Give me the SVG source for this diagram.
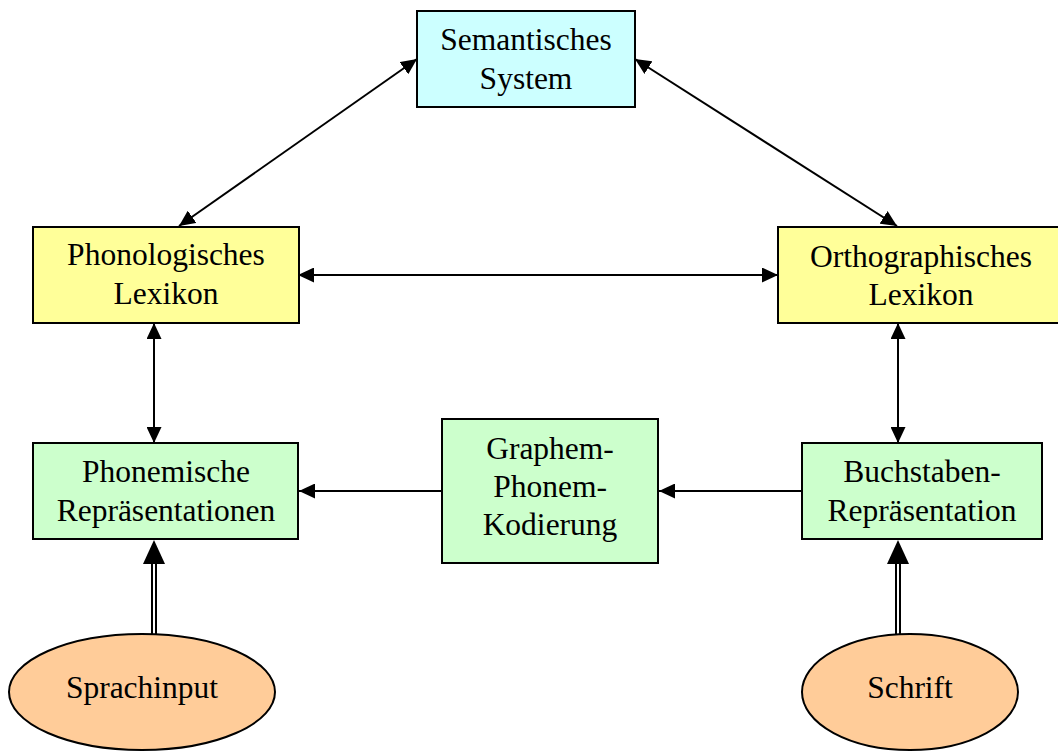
<svg xmlns="http://www.w3.org/2000/svg" width="1058" height="751" viewBox="0 0 1058 751">
  <style>
    .box { stroke: #000; stroke-width: 2; }
    .sem { fill: #ccffff; }
    .lex { fill: #ffff99; }
    .rep { fill: #ccffcc; }
    .src { fill: #ffcc99; }
    text { font-family: "Liberation Serif", "Times New Roman", serif; font-size: 31.5px; fill: #000; text-anchor: middle; }
    .link { stroke: #000; stroke-width: 2; fill: none; }
    .dbl-outer { stroke: #000; stroke-width: 6; fill: none; }
    .dbl-inner { stroke: #fff; stroke-width: 2; fill: none; }
  </style>
  <defs>
    <marker id="arrow" viewBox="0 0 16 15" refX="16" refY="7.5" markerWidth="16" markerHeight="15" markerUnits="userSpaceOnUse" orient="auto-start-reverse">
      <path d="M0,0 L16,7.5 L0,15 Z" fill="#000"/>
    </marker>
  </defs>

  <rect width="1058" height="751" fill="#fff"/>

  <!-- connectors -->
  <g id="connectors">
    <line class="link" x1="179" y1="226" x2="417" y2="59" marker-start="url(#arrow)" marker-end="url(#arrow)"/>
    <line class="link" x1="635" y1="59" x2="897" y2="226" marker-start="url(#arrow)" marker-end="url(#arrow)"/>
    <line class="link" x1="298" y1="275" x2="778" y2="275" marker-start="url(#arrow)" marker-end="url(#arrow)"/>
    <line class="link" x1="154" y1="323" x2="154" y2="443" marker-start="url(#arrow)" marker-end="url(#arrow)"/>
    <line class="link" x1="898" y1="323" x2="898" y2="443" marker-start="url(#arrow)" marker-end="url(#arrow)"/>
    <line class="link" x1="442" y1="491" x2="299" y2="491" marker-end="url(#arrow)"/>
    <line class="link" x1="802" y1="491" x2="659" y2="491" marker-end="url(#arrow)"/>
    <!-- double-line input arrows -->
    <g id="input-speech">
      <line class="dbl-outer" x1="154" y1="635" x2="154" y2="560"/>
      <line class="dbl-inner" x1="154" y1="636" x2="154" y2="560"/>
      <path d="M154,540 L165,564 L143,564 Z" fill="#000"/>
    </g>
    <g id="input-script">
      <line class="dbl-outer" x1="898" y1="635" x2="898" y2="560"/>
      <line class="dbl-inner" x1="898" y1="636" x2="898" y2="560"/>
      <path d="M898,540 L909,564 L887,564 Z" fill="#000"/>
    </g>
  </g>

  <g id="semantisches-system">
    <rect class="box sem" x="417" y="11" width="218" height="96"/>
    <text x="526" y="50">Semantisches</text>
    <text x="526" y="89">System</text>
  </g>

  <g id="phonologisches-lexikon">
    <rect class="box lex" x="33" y="227" width="266" height="96"/>
    <text x="166" y="265">Phonologisches</text>
    <text x="166" y="304">Lexikon</text>
  </g>

  <g id="orthographisches-lexikon">
    <rect class="box lex" x="778" y="227" width="290" height="96"/>
    <text x="921" y="267">Orthographisches</text>
    <text x="921" y="305">Lexikon</text>
  </g>

  <g id="phonemische-repraesentationen">
    <rect class="box rep" x="33" y="443" width="265" height="96"/>
    <text x="166" y="482">Phonemische</text>
    <text x="166" y="521">Repräsentationen</text>
  </g>

  <g id="graphem-phonem-kodierung">
    <rect class="box rep" x="442" y="419" width="216" height="144"/>
    <text x="550" y="459">Graphem-</text>
    <text x="550" y="497">Phonem-</text>
    <text x="550" y="535">Kodierung</text>
  </g>

  <g id="buchstaben-repraesentation">
    <rect class="box rep" x="802" y="443" width="240" height="96"/>
    <text x="922" y="482">Buchstaben-</text>
    <text x="922" y="521">Repräsentation</text>
  </g>

  <g id="sprachinput">
    <ellipse class="box src" cx="142" cy="692" rx="133" ry="58"/>
    <text x="142" y="698">Sprachinput</text>
  </g>

  <g id="schrift">
    <ellipse class="box src" cx="910" cy="692" rx="108" ry="58"/>
    <text x="910" y="698">Schrift</text>
  </g>
</svg>
